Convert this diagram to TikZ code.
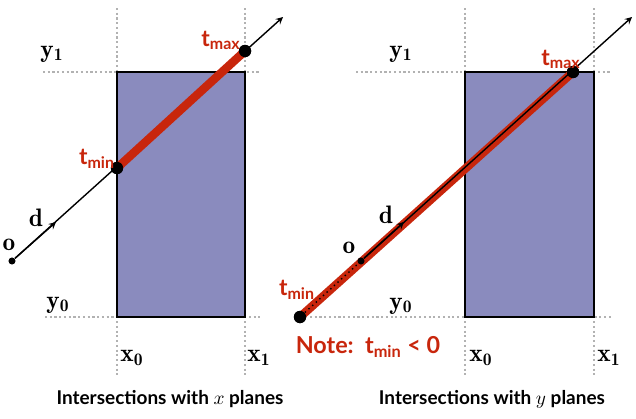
\documentclass[tikz,border=0pt]{standalone}
\usepackage{amsmath}
\usepackage{fontspec}
\setsansfont{Lato}
\usepackage{tikz}
\definecolor{segred}{RGB}{200,38,12}
\definecolor{boxblue}{RGB}{138,139,190}

\begin{document}
\begin{tikzpicture}[x=0.02cm, y=-0.02cm, >=stealth, semithick,
    plane/.style={draw=gray!60, line width=1.2pt, dash pattern=on 1.2pt off 1.5pt},
    slab/.style={draw=black, fill=boxblue, line width=0.9pt},
    ray/.style={draw=black, line width=0.8pt},
    seg/.style={draw=segred, line width=4.8pt},
    hit/.style={circle, fill=black, inner sep=0pt, minimum size=7pt},
    orig/.style={circle, fill=black, inner sep=0pt, minimum size=4pt},
    tlab/.style={text=segred, font=\sffamily\bfseries\fontsize{13}{15}\selectfont, inner sep=0pt},
    mlab/.style={font=\fontsize{14.4}{16}\selectfont, inner sep=0pt},
    caption/.style={font=\sffamily\bfseries\fontsize{10.8}{12}\selectfont, inner sep=0pt}]
    \useasboundingbox (0,0) rectangle (636,419);

    % x planes
    \draw[plane] (117,8) -- (117,378) (245,8) -- (245,378);
    \draw[plane] (43,72) -- (260,72) (45,317) -- (260,317);
    \draw[slab] (117,72) rectangle (245,317);
    \node[orig] (oA) at (12,261) {};
    \node[hit] (tminA) at (117,168) {};
    \node[hit] (tmaxA) at (245,51) {};
    \coordinate (dA) at (56,222);
    \coordinate (endA) at (283,17);
    \path[ray, ->] (oA) edge (endA);
    \path[ray, ->] (oA) edge (dA);
    \path[seg] (tminA.center) edge (tmaxA.center);
    \node[hit] at (tminA) {};
    \node[hit] at (tmaxA) {};
    \node[tlab] at (97,159) {t\textsubscript{min}};
    \node[tlab] at (221,40) {t\textsubscript{max}};
    \node[mlab] at (9,245) {\(\mathbf{o}\)};
    \node[mlab] at (36,218) {\(\mathbf{d}\)};
    \node[mlab] at (52,54) {\(\mathbf{y_1}\)};
    \node[mlab] at (58,305) {\(\mathbf{y_0}\)};
    \node[mlab] at (132,358) {\(\mathbf{x_0}\)};
    \node[mlab] at (259,358) {\(\mathbf{x_1}\)};
    \node[caption] at (170,399) {Intersections with \(x\) planes};

    % y planes
    \draw[plane] (465,8) -- (465,378) (594,8) -- (594,378);
    \draw[plane] (356,72) -- (612,72) (310,317) -- (612,317);
    \draw[slab] (465,72) rectangle (594,317);
    \node[hit] (tminB) at (300,317) {};
    \node[orig] (oB) at (361,261) {};
    \node[hit] (tmaxB) at (573,72) {};
    \coordinate (dB) at (404,222);
    \coordinate (endB) at (632,17);
    \path[seg] (tminB.center) edge (tmaxB.center);
    \path[ray, ->] (oB) edge (endB);
    \path[ray, ->] (oB) edge (dB);
    \path[draw, dotted, line width=0.8pt] (tminB) edge (oB);
    \node[orig] at (oB) {};
    \node[hit] at (tminB) {};
    \node[hit] at (tmaxB) {};
    \node[tlab] at (297,290) {t\textsubscript{min}};
    \node[tlab] at (561,59) {t\textsubscript{max}};
    \node[mlab] at (349,248) {\(\mathbf{o}\)};
    \node[mlab] at (386,215) {\(\mathbf{d}\)};
    \node[mlab] at (401,54) {\(\mathbf{y_1}\)};
    \node[mlab] at (401,306) {\(\mathbf{y_0}\)};
    \node[mlab] at (481,358) {\(\mathbf{x_0}\)};
    \node[mlab] at (609,358) {\(\mathbf{x_1}\)};
    \node[tlab, font=\sffamily\bfseries\fontsize{13.3}{15}\selectfont] at (368,347) {Note:\ \ t\textsubscript{min} < 0};
    \node[caption] at (492,399) {Intersections with \(y\) planes};
\end{tikzpicture}
\end{document}
